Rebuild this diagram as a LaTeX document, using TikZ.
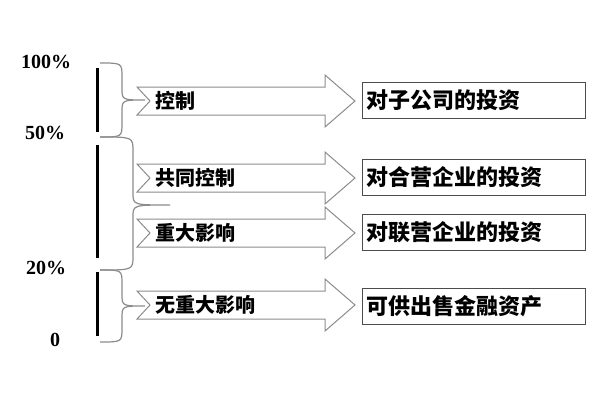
\documentclass[tikz,border=0pt]{standalone}
\usepackage{fontspec}
\newfontfamily\cjk{Noto Sans CJK SC}
\setmainfont{Liberation Serif}
\begin{document}
\begin{tikzpicture}[x=1pt,y=-1pt,
  pct/.style={font=\bfseries\fontsize{20}{20}\selectfont},
  lbl/.style={font=\cjk\bfseries\fontsize{20}{20}\selectfont,anchor=west},
  box/.style={draw=black!70,line width=0.8pt,minimum width=223pt,minimum height=36pt,font=\cjk\bfseries\fontsize{22}{22}\selectfont,anchor=west,text width=215pt,align=left,inner xsep=4pt},
  arr/.style={draw=black!45,line width=1pt,fill=white},
  brc/.style={draw=black!45,line width=1.2pt},
  bar/.style={line width=3pt}]
\useasboundingbox (0,0) rectangle (600,400);
\node[pct] (p100) at (46,62) {100\%};
\node[pct] (p50) at (45,133) {50\%};
\node[pct] (p20) at (46,268) {20\%};
\node[pct] (p0) at (55,340) {0};
\draw[bar] (97,68) -- (97,132);
\draw[bar] (97,145) -- (97,258);
\draw[bar] (97,272) -- (97,336);
\foreach \ya/\yb/\ym/\xm/\xt in {63/137/100/122/145, 137/270/205/133/170, 270/342/306/122/145}{
  \draw[brc] (100,\ya) .. controls (\xm,\ya) .. (\xm,\ya+14) -- (\xm,\ym-12) .. controls (\xm,\ym) .. (\xt,\ym)
    .. controls (\xm,\ym) .. (\xm,\ym+12) -- (\xm,\yb-14) .. controls (\xm,\yb) .. (100,\yb);
}
\foreach \y/\n in {101/a1,178/a2,233/a3,305/a4}{
  \draw[arr] (137,\y-14) -- (325,\y-14) -- (325,\y-26) -- (355,\y) -- (325,\y+26) -- (325,\y+14) -- (137,\y+14) -- (150,\y) -- cycle;
}
\node[lbl] (l1) at (152,101) {控制};
\node[lbl] (l2) at (152,178) {共同控制};
\node[lbl] (l3) at (152,233) {重大影响};
\node[lbl] (l4) at (152,305) {无重大影响};
\node[box] (b1) at (362,100) {对子公司的投资};
\node[box] (b2) at (362,177) {对合营企业的投资};
\node[box] (b3) at (362,232) {对联营企业的投资};
\node[box] (b4) at (362,306) {可供出售金融资产};
\end{tikzpicture}
\end{document}
